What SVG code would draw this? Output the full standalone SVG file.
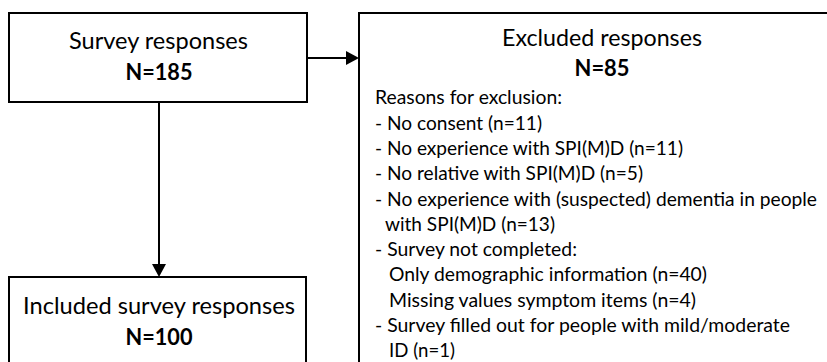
<svg xmlns="http://www.w3.org/2000/svg" width="827" height="362" viewBox="0 0 827 362">
<style>
.box{fill:#fff;stroke:#000;stroke-width:2}
.h{font-family:Lato,"Open Sans","Liberation Sans",sans-serif;font-size:23px;fill:#000;text-anchor:middle}
.b{font-weight:bold}
.t{font-family:Lato,"Open Sans","Liberation Sans",sans-serif;font-size:19px;fill:#000}
.ln{stroke:#000;stroke-width:2;fill:none}
.ah{fill:#000}
</style>
<rect width="827" height="362" fill="#fff"/>
<g id="connectors">
<line class="ln" x1="307" y1="58" x2="348" y2="58"/>
<polygon class="ah" points="346,51 359,58 346,65"/>
<line class="ln" x1="159" y1="102" x2="159" y2="266"/>
<polygon class="ah" points="152,264 159,277 166,264"/>
</g>
<g id="survey">
<rect class="box" x="9" y="13" width="298" height="89"/>
<text class="h" x="158.5" y="49" textLength="179" lengthAdjust="spacingAndGlyphs">Survey responses</text>
<text class="h b" x="159" y="80" textLength="67" lengthAdjust="spacingAndGlyphs">N=185</text>
</g>
<g id="excluded">
<rect class="box" x="359" y="13" width="490" height="400"/>
<text class="h" x="602" y="46" textLength="200" lengthAdjust="spacingAndGlyphs">Excluded responses</text>
<text class="h b" x="602" y="76" textLength="55" lengthAdjust="spacingAndGlyphs">N=85</text>
<text class="t" x="375" y="104.3" textLength="187" lengthAdjust="spacingAndGlyphs">Reasons for exclusion:</text>
<text class="t" x="375" y="129.6" textLength="167" lengthAdjust="spacingAndGlyphs">- No consent (n=11)</text>
<text class="t" x="375" y="154.9" textLength="308" lengthAdjust="spacingAndGlyphs">- No experience with SPI(M)D (n=11)</text>
<text class="t" x="375" y="180.2" textLength="268" lengthAdjust="spacingAndGlyphs">- No relative with SPI(M)D (n=5)</text>
<text class="t" x="375" y="205.5" textLength="442" lengthAdjust="spacingAndGlyphs">- No experience with (suspected) dementia in people</text>
<text class="t" x="385" y="230.8" textLength="170" lengthAdjust="spacingAndGlyphs">with SPI(M)D (n=13)</text>
<text class="t" x="375" y="256.1" textLength="202" lengthAdjust="spacingAndGlyphs">- Survey not completed:</text>
<text class="t" x="389" y="281.4" textLength="318" lengthAdjust="spacingAndGlyphs">Only demographic information (n=40)</text>
<text class="t" x="389" y="306.7" textLength="307" lengthAdjust="spacingAndGlyphs">Missing values symptom items (n=4)</text>
<text class="t" x="375" y="332" textLength="415" lengthAdjust="spacingAndGlyphs">- Survey filled out for people with mild/moderate</text>
<text class="t" x="389" y="357.3" textLength="66" lengthAdjust="spacingAndGlyphs">ID (n=1)</text>
</g>
<g id="included">
<rect class="box" x="9" y="277" width="297" height="120"/>
<text class="h" x="159" y="314" textLength="272" lengthAdjust="spacingAndGlyphs">Included survey responses</text>
<text class="h b" x="159" y="345" textLength="67" lengthAdjust="spacingAndGlyphs">N=100</text>
</g>
</svg>
